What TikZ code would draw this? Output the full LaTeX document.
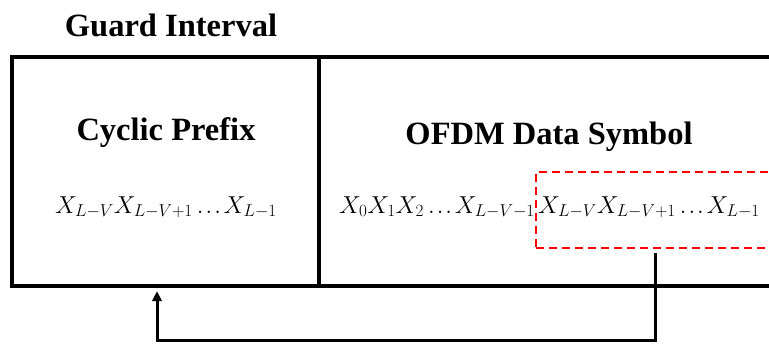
\RequirePackage{fix-cm}
\documentclass[tikz,border=0pt]{standalone}
\usepackage{fontspec}
\setmainfont{Liberation Serif}
\usepackage{tikz}
\usetikzlibrary{positioning,arrows.meta}
\newcommand{\sdots}{\,.\mkern1.5mu.\mkern1.5mu.\mkern2mu}

\begin{document}
\begin{tikzpicture}[x=1pt, y=-1pt,
  frame/.style={draw, line width=3.5pt, inner sep=0pt},
  heading/.style={font=\fontsize{32.5}{36}\selectfont\bfseries},
  seq/.style={font=\fontsize{24.5}{28}\selectfont, inner sep=0pt},
  copybox/.style={draw=red, dashed, line width=1.6pt,
    dash pattern=on 8pt off 5pt, inner sep=0pt},
  arr/.style={-{Triangle[length=10pt,width=9pt]}, line width=3pt}
]
\useasboundingbox (0,0) rectangle (769,343);
\clip (0,0) rectangle (769,343);

% Title
\node[heading] (gi) at (171,25) {Guard Interval};

% Cyclic prefix and data part
\node[frame, minimum width=307pt, minimum height=229pt] (cp) at (165.5,171.5) {};
\node[frame, minimum width=500pt, minimum height=229pt] (data) at (569,171.5) {};

\node[heading] (cptxt) at (166,133) {Cyclic Prefix};
\node[heading] (datatxt) at (549,137) {OFDM Data Symbol};

% Sample sequences
\node[seq, anchor=base] (cpseq) at (166,213) {$X_{L-V}X_{L-V+1}\sdots X_{L-1}$};
\node[seq, anchor=base east] (seqa) at (535,213) {$X_0X_1X_2\sdots X_{L-V-1}$};
\node[seq, anchor=base west] (seqb) at (538,213) {$X_{L-V}X_{L-V+1}\sdots X_{L-1}$};

% Copied tail
\node[copybox, minimum width=260pt, minimum height=76pt] (tail) at (666,210) {};

% Copy arrow
\coordinate (src) at (655,253);
\coordinate (dst) at (157,291);
\draw[arr] (src) -- ++(0,87) -| (dst);

\end{tikzpicture}
\end{document}
